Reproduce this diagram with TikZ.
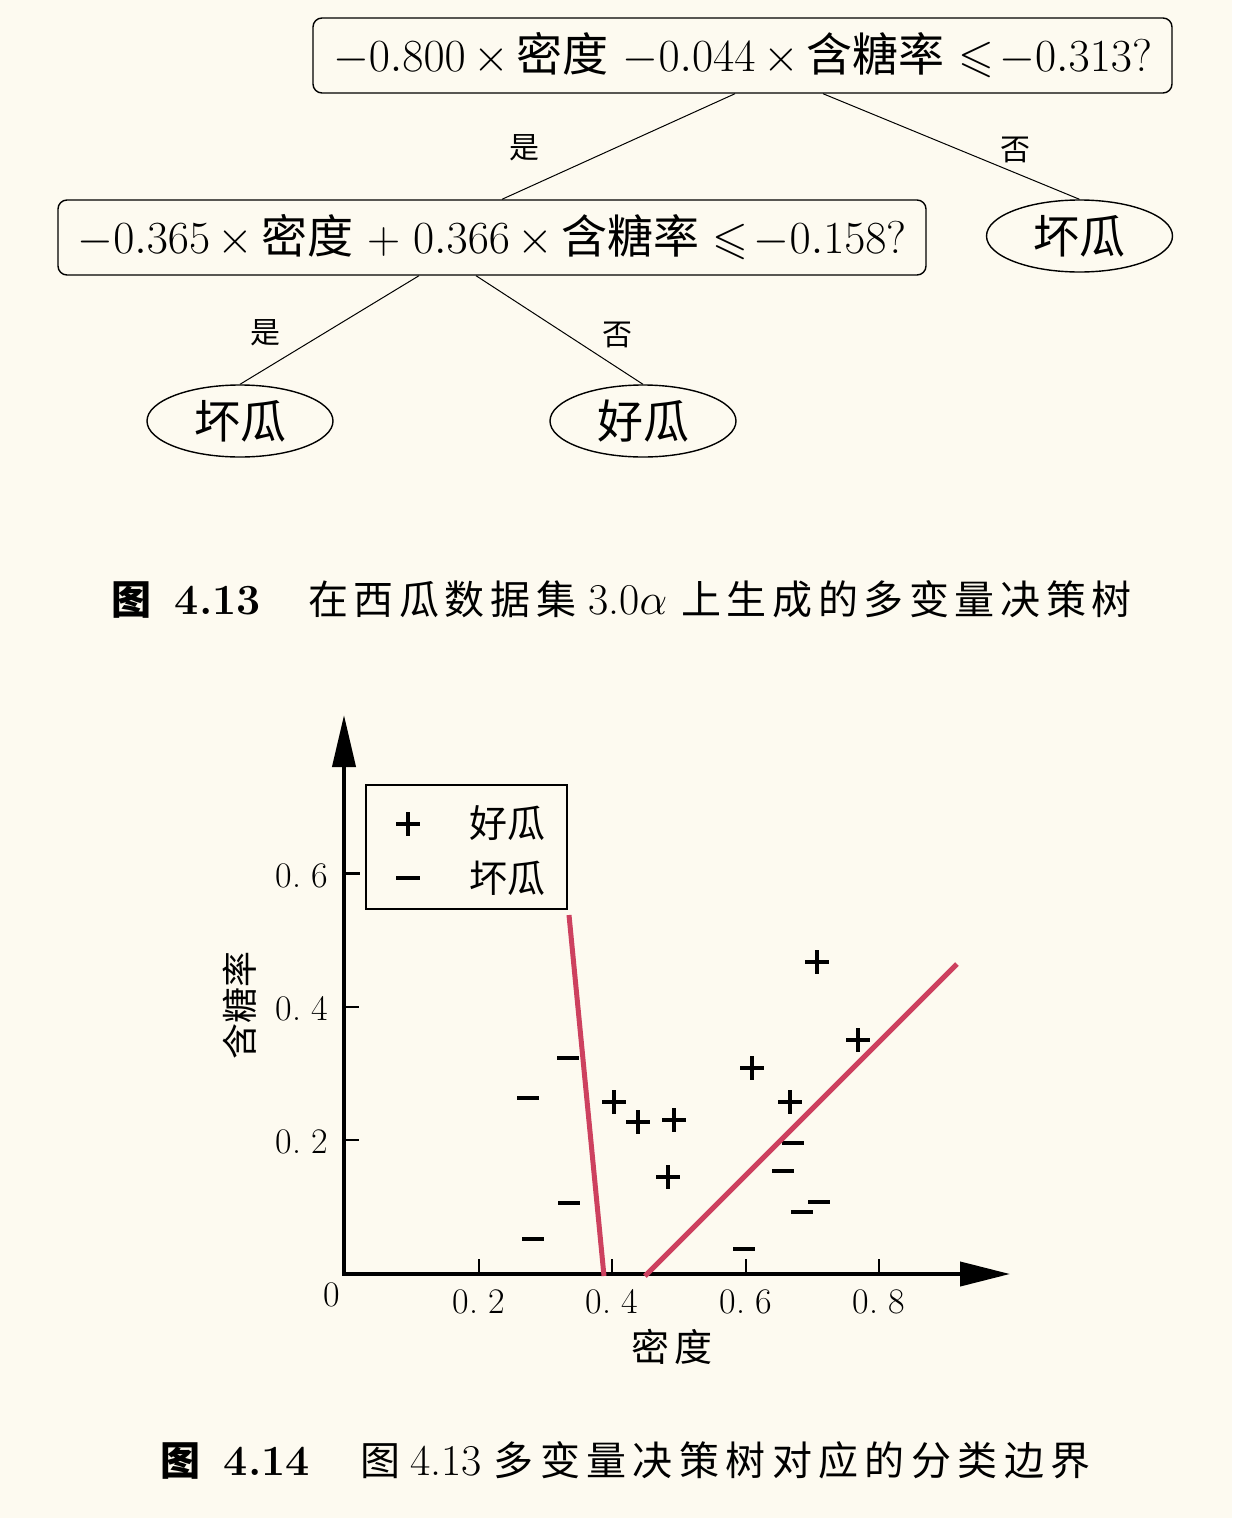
\RequirePackage{fix-cm}
\documentclass[tikz,border=0pt]{standalone}
\usepackage{fontspec}
\usepackage{amssymb}
\DeclareFontFamily{U}{msa}{}
\DeclareFontShape{U}{msa}{m}{n}{<-> msam10}{}
\usetikzlibrary{shapes.geometric,arrows.meta}
\newfontfamily\cjk{Noto Sans CJK SC}
\newfontfamily\cjkcapA[LetterSpace=14]{Noto Sans CJK SC}
\newfontfamily\cjkcapB[LetterSpace=16]{Noto Sans CJK SC}
\definecolor{bg}{RGB}{253,250,240}
\definecolor{bound}{RGB}{205,65,95}
\newcommand\fs[1]{\fontsize{#1}{#1}\selectfont}
\begin{document}
\begin{tikzpicture}[x=1pt,y=-1pt,
  condbox/.style={draw,line width=1.4pt,rounded corners=9pt,minimum height=75pt,inner sep=0pt,font=\fs{46}},
  leaf/.style={draw,ellipse,line width=1.4pt,minimum width=186pt,minimum height=72pt,inner sep=0pt,font=\cjk\fs{46}},
  edge/.style={line width=1pt},
  elabel/.style={font=\cjk\fs{30},inner sep=0pt},
  capb/.style={font=\cjk\bfseries\fs{40},inner sep=0pt},
  capnum/.style={font=\bfseries\fs{43},inner sep=0pt},
  captxt/.style={font=\fs{40},inner sep=0pt},
  tlab/.style={font=\fs{36},inner sep=0pt},
  axisline/.style={line width=4pt,line join=miter},
  tick/.style={line width=2pt},
  boundline/.style={line width=5pt,draw=bound},
  pm/.style={line width=4pt}]
\fill[bg] (0,0) rectangle (1232,1518);
\useasboundingbox (0,0) rectangle (1232,1518);

% ---------- tree ----------
\node[condbox,minimum width=859pt] (q1) at (742.5,55.5)
  {$-0.800{\,\times\,}$\mbox{\cjk 密度} $-0.044{\,\times\,}$\mbox{\cjk 含糖率} $\leqslant\!-0.313$?};
\node[condbox,minimum width=868pt] (q2) at (492,237.5)
  {$-0.365{\,\times\,}$\mbox{\cjk 密度} $+\;0.366{\,\times\,}$\mbox{\cjk 含糖率} $\leqslant\!-0.158$?};
\node[leaf] (r1) at (1079.5,236) {坏瓜};
\node[leaf] (l1) at (240,421) {坏瓜};
\node[leaf] (l2) at (643,421) {好瓜};

\draw[edge] ([xshift=-7.5pt]q1.south) -- ([xshift=10pt]q2.north);
\draw[edge] ([xshift=80.5pt]q1.south) -- (r1.north);
\draw[edge] ([xshift=-73pt]q2.south) -- (l1.north);
\draw[edge] ([xshift=-16pt]q2.south) -- (l2.north);

\node[elabel] (y1) at (524,148) {是};
\node[elabel] (n1) at (1015,150) {否};
\node[elabel] (y2) at (265,333) {是};
\node[elabel] (n2) at (617,335) {否};

% ---------- caption 1 ----------
\node[capb,anchor=base] (c1a) at (131,614) {图};
\node[capnum,anchor=base] (c1b) at (218,614) {4.13};
\node[captxt,anchor=base west] (c1c) at (308,614)
  {{\cjkcapA 在西瓜数据集}\hspace{12pt}{\fs{44}3.0$\alpha$}\hspace{14pt}{\cjkcapA 上生成的多变量决策树}};

% ---------- plot ----------
\coordinate (O) at (344,1274);
\coordinate (xend) at (1010,1274);
\coordinate (yend) at (344,715);
\draw[axisline,{Triangle[length=52pt,width=23pt]}-{Triangle[length=50pt,width=24pt]}] (yend) -- (O) -- (xend);

\foreach \xx in {479,612,746,879} \draw[tick] (\xx,1274) -- (\xx,1259);
\foreach \yy in {1140,1007} \draw[tick] (344,\yy) -- (359,\yy);
\draw[line width=3pt] (344,873) -- (360,873);

\node[tlab] (t0) at (332,1295) {0};
\node[tlab] (tx2) at (479,1302) {0.\hspace{0.3em}2};
\node[tlab] (tx4) at (612,1302) {0.\hspace{0.3em}4};
\node[tlab] (tx6) at (746,1302) {0.\hspace{0.3em}6};
\node[tlab] (tx8) at (879,1302) {0.\hspace{0.3em}8};
\node[tlab] (ty2) at (302,1142) {0.\hspace{0.3em}2};
\node[tlab] (ty4) at (302,1009) {0.\hspace{0.3em}4};
\node[tlab] (ty6) at (302,876) {0.\hspace{0.3em}6};

\node[font=\cjkcapA\fs{38},inner sep=0pt] (xl) at (672,1347) {密度};
\node[font=\cjk\fs{36},inner sep=0pt,rotate=90] (yl) at (240,1005) {含糖率};

% legend
\node[draw,line width=2pt,minimum width=201pt,minimum height=124pt,inner sep=0pt] (leg) at (466,847) {};
\draw[pm] (396,824) -- (420,824) (408,812) -- (408,836);
\draw[pm] (396,878) -- (420,878);
\node[font=\cjk\fs{38},inner sep=0pt] (lg1) at (507,823) {好瓜};
\node[font=\cjk\fs{38},inner sep=0pt] (lg2) at (507,878) {坏瓜};

% data points
\foreach \px/\py in {817/962,858/1040,752/1068,790/1102,614/1102,638/1122,674/1120,668/1177}
  \draw[pm] (\px-12,\py) -- (\px+12,\py) (\px,\py-12) -- (\px,\py+12);
\foreach \px/\py in {568/1058,528/1098,569/1203,533/1239,744/1249,793/1143,783/1171,802/1212,819/1202}
  \draw[pm] (\px-11,\py) -- (\px+11,\py);

% boundaries
\coordinate (a1) at (569,915);
\coordinate (a2) at (604,1276);
\coordinate (b1) at (645,1276);
\coordinate (b2) at (957,964);
\draw[boundline] (a1) -- (a2);
\draw[boundline] (b1) -- (b2);

% ---------- caption 2 ----------
\node[capb,anchor=base] (c2a) at (180,1475) {图};
\node[capnum,anchor=base] (c2b) at (267,1475) {4.14};
\node[captxt,anchor=base west] (c2c) at (360,1475)
  {{\cjkcapB 图}\hspace{10pt}{\fs{44}4.13}\hspace{12pt}{\cjkcapB 多变量决策树对应的分类边界}};
\end{tikzpicture}
\end{document}
